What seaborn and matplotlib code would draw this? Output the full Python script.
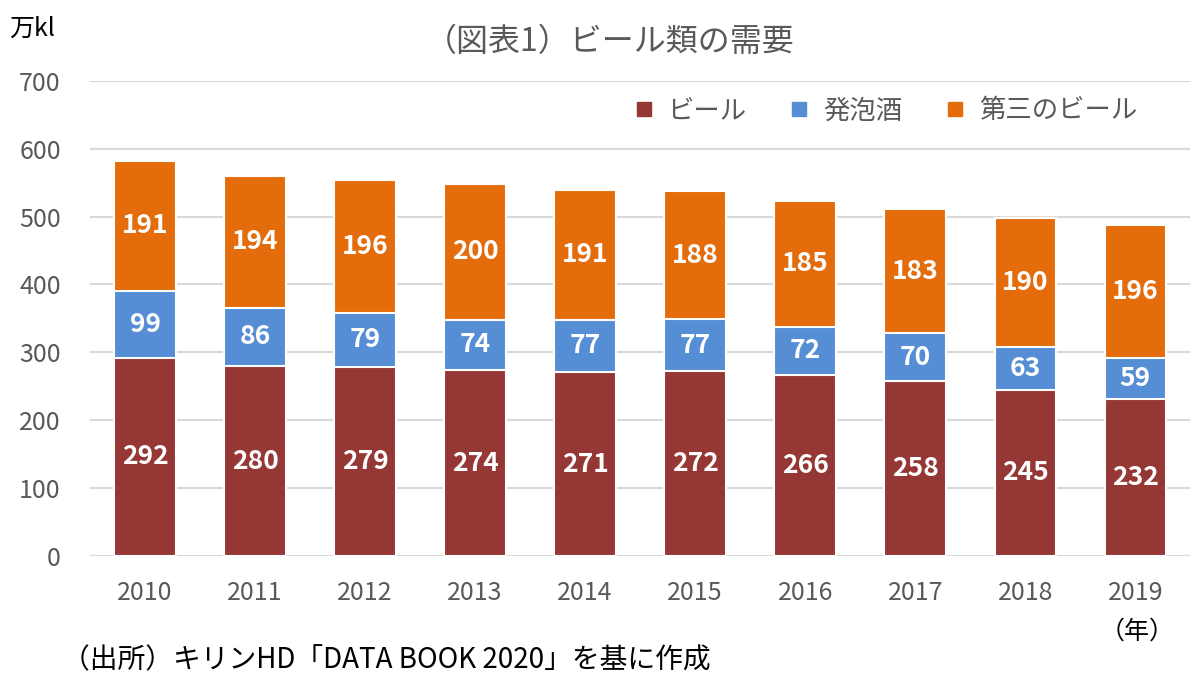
import numpy as np
import pandas as pd
import seaborn as sns
import matplotlib.pyplot as plt
from matplotlib.lines import Line2D

years = ["2010", "2011", "2012", "2013", "2014", "2015", "2016", "2017", "2018", "2019"]
beer = [292, 280, 279, 274, 271, 272, 266, 258, 245, 232]
happoshu = [99, 86, 79, 74, 77, 77, 72, 70, 63, 59]
third = [191, 194, 196, 200, 191, 188, 185, 183, 190, 196]
series_names = ["ビール", "発泡酒", "第三のビール"]
colors = ["#953735", "#558ED5", "#E46C0A"]

sns.set_style("white")
plt.rcParams["font.family"] = ["Noto Sans CJK JP", "DejaVu Sans"]

df = pd.DataFrame({"year": years, "beer": beer, "happoshu": happoshu, "third": third})
df["lvl1"] = df["beer"]
df["lvl2"] = df["beer"] + df["happoshu"]
df["lvl3"] = df["lvl2"] + df["third"]

fig = plt.figure(figsize=(12, 6.84), dpi=100)
ax = fig.add_axes([0.075, 0.187, 0.917, 0.695])

# stacked bars drawn as overlapping cumulative totals
for col, c in zip(["lvl3", "lvl2", "lvl1"], colors[::-1]):
    sns.barplot(data=df, x="year", y=col, color=c, width=0.56,
                edgecolor="white", linewidth=1.5, saturation=1, ax=ax, zorder=3)

# value labels
for i in range(len(years)):
    segs = [(0, beer[i]), (beer[i], happoshu[i]), (beer[i] + happoshu[i], third[i])]
    for b, v in segs:
        ax.text(i, b + v / 2, str(v), ha="center", va="center", color="white",
                fontsize=19, fontweight="bold", zorder=4)

ax.set_ylim(0, 700)
ax.set_xlim(-0.5, len(years) - 0.5)
ax.set_yticks(range(0, 701, 100))
ax.yaxis.grid(True, color="#D9D9D9", linewidth=1.5, zorder=0)
ax.set_axisbelow(True)
for s in ax.spines.values():
    s.set_visible(False)
ax.tick_params(axis="both", length=0, labelsize=18, labelcolor="#595959")
ax.tick_params(axis="y", pad=21)
ax.tick_params(axis="x", pad=17)
ax.set_xlabel("")
ax.set_ylabel("")

handles = [Line2D([], [], marker="s", linestyle="none", markersize=10,
                  markerfacecolor=c, markeredgecolor=c) for c in colors]
fig.legend(handles, series_names, loc="center", bbox_to_anchor=(0.731, 0.838),
           ncol=3, frameon=False, fontsize=19, handletextpad=-0.1,
           columnspacing=1.0, labelcolor="#595959")

fig.text(0.508, 0.938, "（図表1）ビール類の需要", ha="center", va="center",
         fontsize=23, color="#595959")
fig.text(0.008, 0.958, "万kl", ha="left", va="center", fontsize=18, color="black")
fig.text(0.948, 0.076, "（年）", ha="center", va="center", fontsize=18, color="black")
fig.text(0.052, 0.035, "（出所）キリンHD「DATA BOOK 2020」を基に作成", ha="left",
         va="center", fontsize=20, color="black")

fig.savefig("out.png", dpi=100)
